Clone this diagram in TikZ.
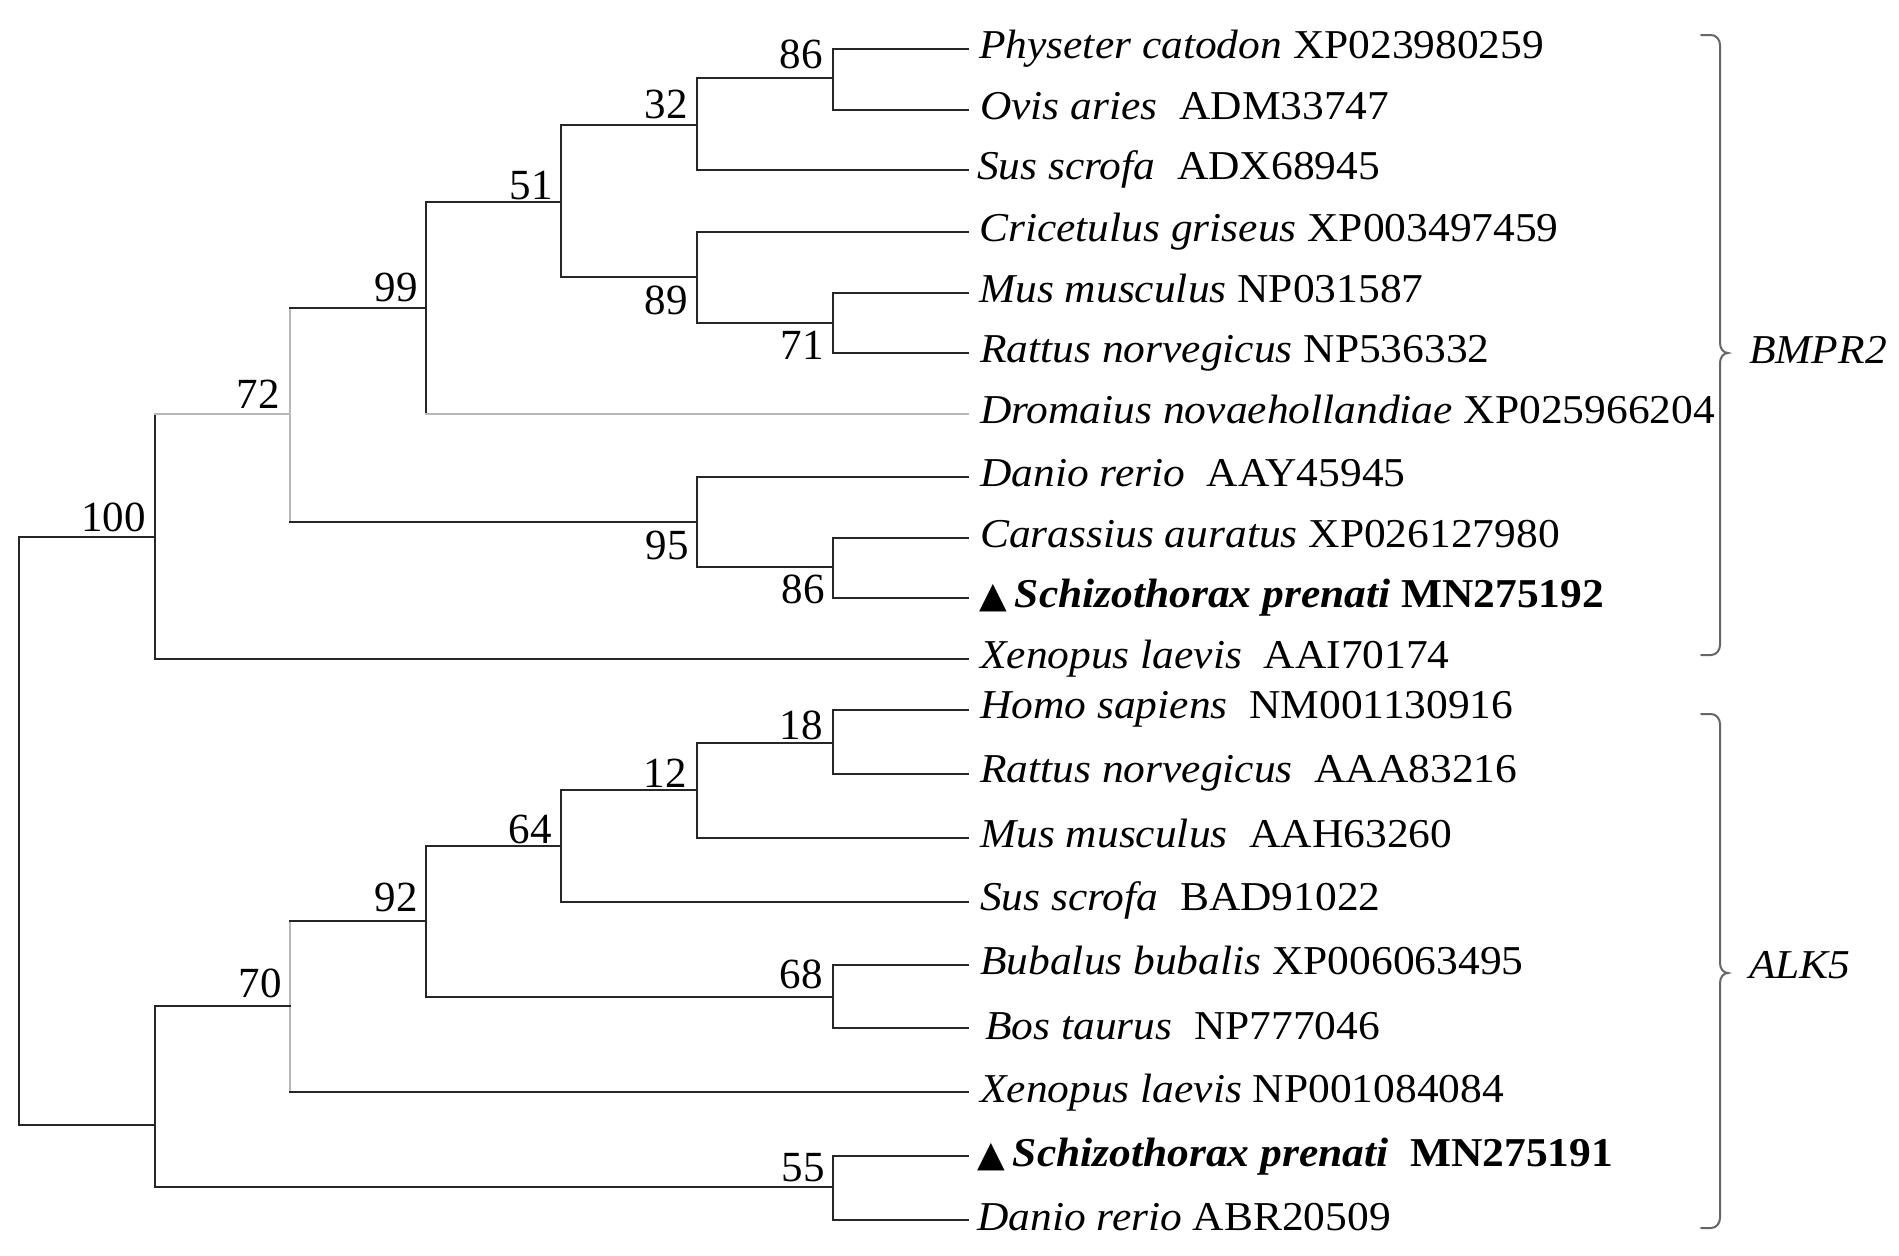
\documentclass[tikz,border=0pt]{standalone}
\usepackage{fontspec}
\setmainfont{Liberation Serif}
\newfontfamily\labfont{Liberation Serif}[FakeStretch=1.06]
\newfontfamily\symfont{DejaVu Sans}
\newcommand\cladeV[4][br]{\draw[#1] (#2 |- #3) -- (#2 |- #4);}
\newcommand\branchH[3][br]{\draw[#1] (#2 |- #3) -- (#3);}
\newcommand\tri{{\symfont\fontsize{36}{40}\selectfont ▲}\hspace{8pt}}
\begin{document}
\begin{tikzpicture}[x=1pt,y=-1pt,
  br/.style={line width=1.9pt, color=black!85, line cap=rect},
  lbr/.style={line width=1.9pt, color=black!28, line cap=rect},
  lab/.style={anchor=base west, inner sep=0pt, font=\labfont\fontsize{41}{45}\selectfont},
  bs/.style={anchor=base east, inner sep=0pt, font=\fontsize{43}{46}\selectfont},
  bsb/.style={anchor=north east, inner sep=0pt, font=\fontsize{43}{46}\selectfont},
  bracket/.style={line width=2pt, color=black!60, line cap=round},
]
\useasboundingbox (0,0) rectangle (1899,1256);
\fill[white] (0,0) rectangle (1899,1256);

% ---- tips
\coordinate (t1) at (968,49);
\coordinate (t2) at (968,110);
\coordinate (t3) at (968,170);
\coordinate (t4) at (968,232);
\coordinate (t5) at (968,293);
\coordinate (t6) at (968,353);
\coordinate (t7) at (968,414);
\coordinate (t8) at (968,477);
\coordinate (t9) at (968,538);
\coordinate (t10) at (968,598);
\coordinate (t11) at (968,659);
\coordinate (u1) at (968,710);
\coordinate (u2) at (968,774);
\coordinate (u3) at (968,838);
\coordinate (u4) at (968,902);
\coordinate (u5) at (968,965);
\coordinate (u6) at (968,1028);
\coordinate (u7) at (968,1092);
\coordinate (u8) at (968,1156);
\coordinate (u9) at (968,1220);

% ---- internal nodes
\coordinate (n86a) at (833,78);
\coordinate (n32) at (697,125);
\coordinate (n71) at (833,323);
\coordinate (n89) at (697,277);
\coordinate (n51) at (561,202);
\coordinate (n99) at (426,308);
\coordinate (n86b) at (833,567);
\coordinate (n95) at (697,522);
\coordinate (n72) at (290,414);
\coordinate (n100) at (155,537);
\coordinate (n18) at (833,743);
\coordinate (n12) at (697,790);
\coordinate (n64) at (561,846);
\coordinate (n68) at (833,997);
\coordinate (n92) at (426,921);
\coordinate (n70) at (290,1006);
\coordinate (n55) at (833,1187);
\coordinate (nL) at (155,1125);
\coordinate (root) at (19,831);

% ---- upper clade
\cladeV{n86a}{t1}{t2} \branchH{n86a}{t1} \branchH{n86a}{t2}
\cladeV{n32}{n86a}{t3} \branchH{n32}{n86a} \branchH{n32}{t3}
\cladeV{n71}{t5}{t6} \branchH{n71}{t5} \branchH{n71}{t6}
\cladeV{n89}{t4}{n71} \branchH{n89}{t4} \branchH{n89}{n71}
\cladeV{n51}{n32}{n89} \branchH{n51}{n32} \branchH{n51}{n89}
\cladeV{n99}{n51}{t7} \branchH{n99}{n51} \branchH[lbr]{n99}{t7}
\cladeV{n86b}{t9}{t10} \branchH{n86b}{t9} \branchH{n86b}{t10}
\cladeV{n95}{t8}{n86b} \branchH{n95}{t8} \branchH{n95}{n86b}
\cladeV[lbr]{n72}{n99}{n95} \branchH{n72}{n99} \branchH{n72}{n95}
\cladeV{n100}{n72}{t11} \branchH[lbr]{n100}{n72} \branchH{n100}{t11}

% ---- lower clade
\cladeV{n18}{u1}{u2} \branchH{n18}{u1} \branchH{n18}{u2}
\cladeV{n12}{n18}{u3} \branchH{n12}{n18} \branchH{n12}{u3}
\cladeV{n64}{n12}{u4} \branchH{n64}{n12} \branchH{n64}{u4}
\cladeV{n68}{u5}{u6} \branchH{n68}{u5} \branchH{n68}{u6}
\cladeV{n92}{n64}{n68} \branchH{n92}{n64} \branchH{n92}{n68}
\cladeV[lbr]{n70}{n92}{u7} \branchH{n70}{n92} \branchH{n70}{u7}
\cladeV{n55}{u8}{u9} \branchH{n55}{u8} \branchH{n55}{u9}
\cladeV{nL}{n70}{n55} \branchH{nL}{n70} \branchH{nL}{n55}

% ---- root
\cladeV{root}{n100}{nL} \branchH{root}{n100} \branchH{root}{nL}

% ---- bootstrap values
\node[bs] (b86a) at ([xshift=-10pt,yshift=10pt]n86a) {86};
\node[bs] (b32) at ([xshift=-9pt,yshift=7pt]n32) {32};
\node[bs] (b51) at ([xshift=-8pt,yshift=3pt]n51) {51};
\node[bs] (b99) at ([xshift=-8pt,yshift=7pt]n99) {99};
\node[bs] (b72) at ([xshift=-10pt,yshift=6pt]n72) {72};
\node[bs] (b100) at ([xshift=-9pt,yshift=6pt]n100) {100};
\node[bsb] (b89) at ([xshift=-9pt,yshift=-9pt]n89) {89};
\node[bsb] (b71) at ([xshift=-9pt,yshift=-8pt]n71) {71};
\node[bsb] (b95) at ([xshift=-8pt,yshift=-9pt]n95) {95};
\node[bsb] (b86b) at ([xshift=-8pt,yshift=-8pt]n86b) {86};
\node[bs] (b18) at ([xshift=-10pt,yshift=4pt]n18) {18};
\node[bs] (b12) at ([xshift=-10pt,yshift=3pt]n12) {12};
\node[bs] (b64) at ([xshift=-9pt,yshift=3pt]n64) {64};
\node[bs] (b92) at ([xshift=-8pt,yshift=10pt]n92) {92};
\node[bs] (b70) at ([xshift=-8pt,yshift=9pt]n70) {70};
\node[bs] (b68) at ([xshift=-10pt,yshift=9pt]n68) {68};
\node[bs] (b55) at ([xshift=-8pt,yshift=6pt]n55) {55};

% ---- tip labels
\node[lab] (l1) at (979,49+9) {\textit{Physeter catodon} XP023980259};
\node[lab] (l2) at (980,110+9) {\textit{Ovis aries}~~ADM33747};
\node[lab] (l3) at (977,170+9) {\textit{Sus scrofa}~~ADX68945};
\node[lab] (l4) at (979,232+9) {\textit{Cricetulus griseus} XP003497459};
\node[lab] (l5) at (979,293+9) {\textit{Mus musculus} NP031587};
\node[lab] (l6) at (980,353+9) {\textit{Rattus norvegicus} NP536332};
\node[lab] (l7) at (980,414+9) {\textit{Dromaius novaehollandiae} XP025966204};
\node[lab] (l8) at (980,477+9) {\textit{Danio rerio}~~AAY45945};
\node[lab] (l9) at (980,538+9) {\textit{Carassius auratus} XP026127980};
\node[lab] (l10) at (979,598+9) {\tri\textbf{\textit{Schizothorax prenati} MN275192}};
\node[lab] (l11) at (980,659+9) {\textit{Xenopus laevis}~~AAI70174};
\node[lab] (m1) at (980,710+8) {\textit{Homo sapiens}~~NM001130916};
\node[lab] (m2) at (980,774+8) {\textit{Rattus norvegicus}~~AAA83216};
\node[lab] (m3) at (980,838+9) {\textit{Mus musculus}~~AAH63260};
\node[lab] (m4) at (980,902+8) {\textit{Sus scrofa}~~BAD91022};
\node[lab] (m5) at (980,965+9) {\textit{Bubalus bubalis} XP006063495};
\node[lab] (m6) at (985,1028+11) {\textit{Bos taurus}~~NP777046};
\node[lab] (m7) at (980,1092+10) {\textit{Xenopus laevis} NP001084084};
\node[lab] (m8) at (977,1156+10) {\tri\textbf{\textit{Schizothorax prenati}~~MN275191}};
\node[lab] (m9) at (977,1220+10) {\textit{Danio rerio} ABR20509};

% ---- brackets
\coordinate (bAt) at (1720,35);
\coordinate (bAm) at (1720,353);
\coordinate (bAb) at (1720,655);
\draw[bracket] ([xshift=-19pt]bAt) -- ([xshift=-9pt]bAt) to[out=0,in=90] ([yshift=-10pt]bAt)
  -- ([yshift=10pt]bAm) to[out=-90,in=180] ([xshift=8pt]bAm) to[out=180,in=90] ([yshift=-10pt]bAm)
  -- ([yshift=10pt]bAb) to[out=-90,in=0] ([xshift=-9pt]bAb) -- ([xshift=-19pt]bAb);
\node[lab] (gA) at (1749,363) {\textit{BMPR2}};

\coordinate (bBt) at (1720,714);
\coordinate (bBm) at (1720,973);
\coordinate (bBb) at (1720,1228);
\draw[bracket] ([xshift=-19pt]bBt) -- ([xshift=-9pt]bBt) to[out=0,in=90] ([yshift=-10pt]bBt)
  -- ([yshift=10pt]bBm) to[out=-90,in=180] ([xshift=8pt]bBm) to[out=180,in=90] ([yshift=-10pt]bBm)
  -- ([yshift=10pt]bBb) to[out=-90,in=0] ([xshift=-9pt]bBb) -- ([xshift=-19pt]bBb);
\node[lab] (gB) at (1749,978) {\textit{ALK5}};
\end{tikzpicture}
\end{document}
